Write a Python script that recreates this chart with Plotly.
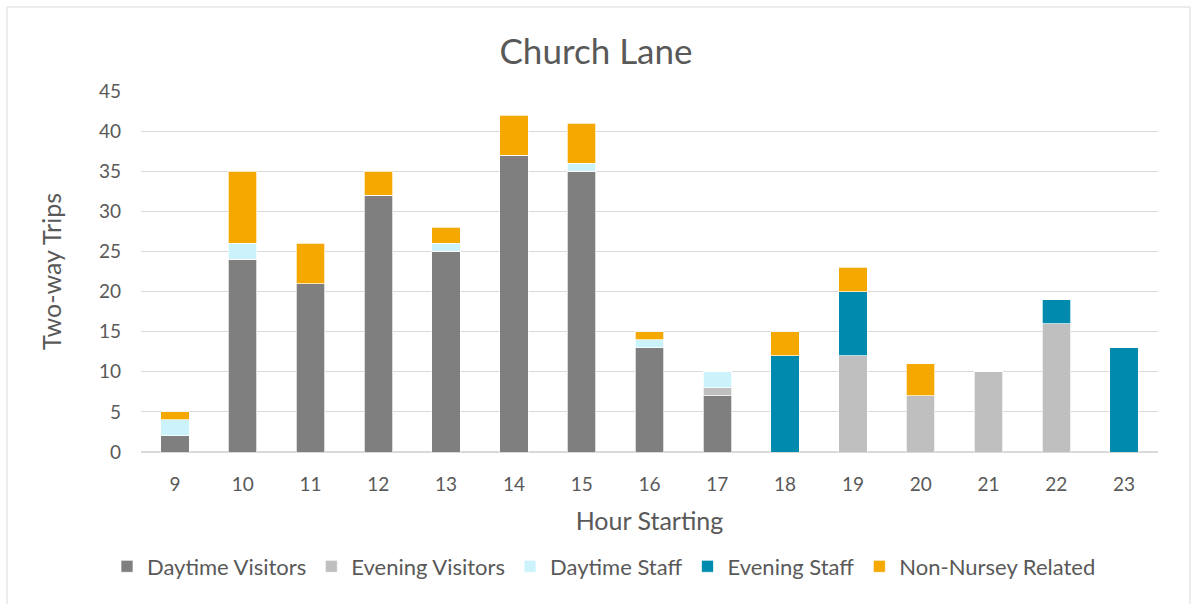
import plotly.graph_objects as go

hours = ["9", "10", "11", "12", "13", "14", "15", "16", "17", "18", "19", "20", "21", "22", "23"]
daytime_visitors = [2, 24, 21, 32, 25, 37, 35, 13, 7, 0, 0, 0, 0, 0, 0]
evening_visitors = [0, 0, 0, 0, 0, 0, 0, 0, 1, 0, 12, 7, 10, 16, 0]
daytime_staff = [2, 2, 0, 0, 1, 0, 1, 1, 2, 0, 0, 0, 0, 0, 0]
evening_staff = [0, 0, 0, 0, 0, 0, 0, 0, 0, 12, 8, 0, 0, 3, 13]
non_nursery = [1, 9, 5, 3, 2, 5, 5, 1, 0, 3, 3, 4, 0, 0, 0]

series = [
    ("Daytime Visitors", daytime_visitors, "#7f7f7f"),
    ("Evening Visitors", evening_visitors, "#bfbfbf"),
    ("Daytime Staff", daytime_staff, "#ccf3fc"),
    ("Evening Staff", evening_staff, "#008aad"),
    ("Non-Nursey Related", non_nursery, "#f5a800"),
]

font_family = "Lato, 'Open Sans', sans-serif"
text_color = "#595959"

fig = go.Figure()
for name, vals, color in series:
    fig.add_trace(go.Bar(
        x=hours, y=vals, name=name,
        marker=dict(color=color, line=dict(color="white", width=0.7)),
    ))

# plot area: x 141..1158, y 91..452 (px)
left, right, top, bottom = 141, 1158, 91, 452
plot_w, plot_h = right - left, bottom - top

fig.update_layout(
    barmode="stack",
    bargap=0.58,
    width=1192, height=604,
    margin=dict(l=left, r=1192 - right, t=top, b=604 - bottom),
    paper_bgcolor="white",
    plot_bgcolor="white",
    font=dict(family=font_family, color=text_color, size=19),
    title=dict(text="Church Lane", x=0.5, xanchor="center", y=1 - 52 / 604, yanchor="middle",
               font=dict(size=35, color=text_color)),
    legend=dict(orientation="h", x=(604 - left) / plot_w, xanchor="center", y=-0.259, yanchor="top",
                font=dict(size=22, color=text_color), itemwidth=30, traceorder="normal"),
    xaxis=dict(title=dict(text="Hour Starting", font=dict(size=25), standoff=18),
               showline=True, linecolor="#d9d9d9", ticks="", ticklabelstandoff=15,
               tickfont=dict(size=19)),
    yaxis=dict(title=dict(text="Two-way Trips", font=dict(size=25), standoff=30),
               range=[0, 45], dtick=5, gridcolor="#d9d9d9", gridwidth=1,
               zeroline=True, zerolinecolor="#d9d9d9", ticklabelstandoff=19,
               tickfont=dict(size=19)),
    shapes=[dict(type="rect", xref="paper", yref="paper",
                 x0=(7 - left) / plot_w, x1=(1190 - left) / plot_w,
                 y0=-(612 - bottom) / plot_h, y1=(bottom - 7) / plot_h,
                 line=dict(color="#d9d9d9", width=1), fillcolor="rgba(0,0,0,0)")],
)

fig.write_html("out.html", config={"displayModeBar": False},
               post_script="document.body.style.margin='0';")
